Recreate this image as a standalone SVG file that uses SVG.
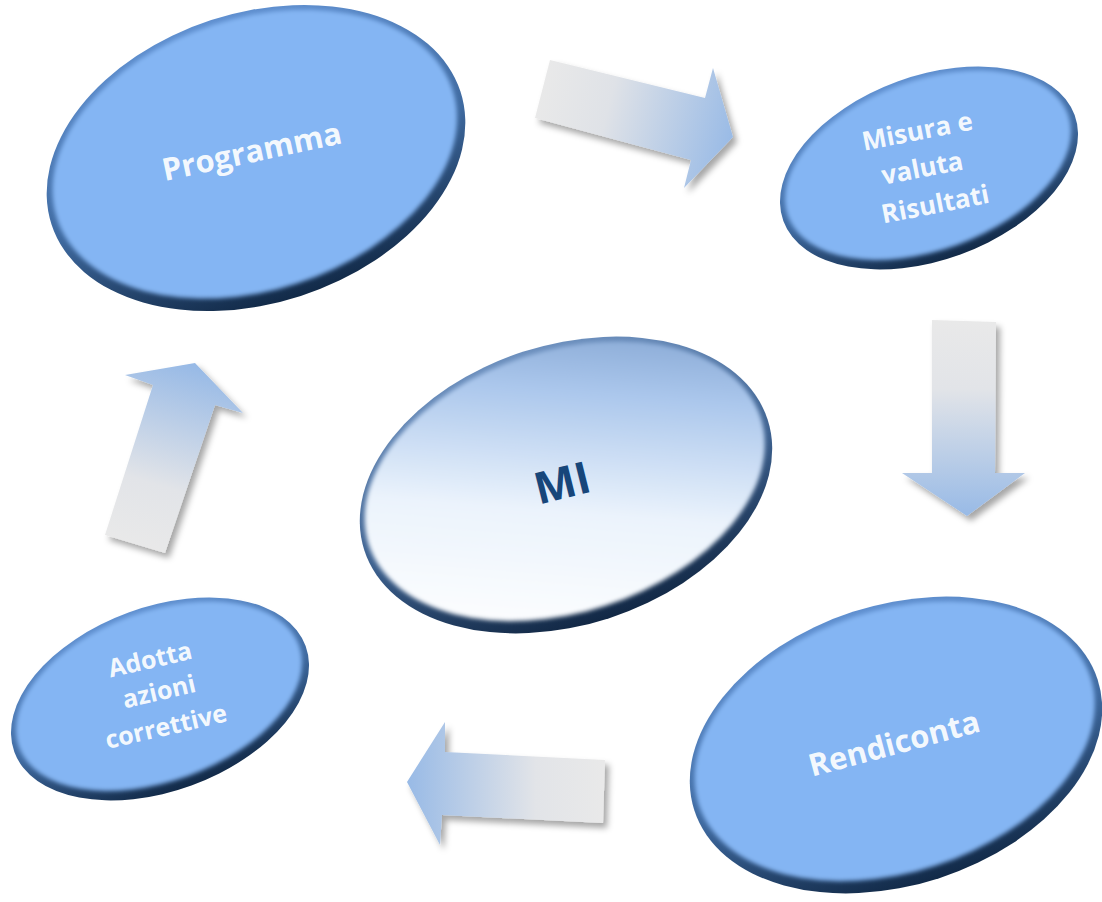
<svg xmlns="http://www.w3.org/2000/svg" width="1102" height="902" viewBox="0 0 1102 902">
<style>
.lbl{font-family:"Open Sans","Noto Sans","Liberation Sans",sans-serif;font-weight:bold;fill:#ffffff;fill-opacity:0.93;text-anchor:middle}
.mi{font-family:"Open Sans","Noto Sans","Liberation Sans",sans-serif;font-weight:bold;fill:#17467a;text-anchor:middle}
.face{fill:#84b5f3}
</style>
<defs>
<linearGradient id="rim" x1="0" y1="0" x2="0" y2="1">
<stop offset="0" stop-color="#5f8fcf"/>
<stop offset="0.55" stop-color="#3f6aa0"/>
<stop offset="1" stop-color="#122a48"/>
</linearGradient>
<linearGradient id="rimMI" x1="0" y1="0" x2="0" y2="1">
<stop offset="0" stop-color="#6c8fbd"/>
<stop offset="0.55" stop-color="#3e6290"/>
<stop offset="1" stop-color="#122845"/>
</linearGradient>
<linearGradient id="faceMI" x1="0.2" y1="1" x2="0.85" y2="0">
<stop offset="0" stop-color="#ffffff"/>
<stop offset="0.4" stop-color="#ebf3fc"/>
<stop offset="0.75" stop-color="#abc7ec"/>
<stop offset="1" stop-color="#7fa1cf"/>
</linearGradient>
<filter id="soft" x="-10%" y="-10%" width="120%" height="120%">
<feGaussianBlur stdDeviation="2.2"/>
</filter>
<filter id="shadow" x="-20%" y="-20%" width="150%" height="150%">
<feDropShadow dx="4" dy="5" stdDeviation="3" flood-color="#000" flood-opacity="0.35"/>
</filter>
<linearGradient id="gTop" gradientUnits="userSpaceOnUse" x1="540" y1="90" x2="735" y2="140">
<stop offset="0" stop-color="#e9e9e9"/>
<stop offset="0.35" stop-color="#dfe2e7"/>
<stop offset="1" stop-color="#98bae6"/>
</linearGradient>
<linearGradient id="gDown" gradientUnits="userSpaceOnUse" x1="965" y1="320" x2="965" y2="516">
<stop offset="0" stop-color="#e9e9e9"/>
<stop offset="0.35" stop-color="#e2e4e8"/>
<stop offset="1" stop-color="#98bae6"/>
</linearGradient>
<linearGradient id="gLeft" gradientUnits="userSpaceOnUse" x1="605" y1="790" x2="407" y2="790">
<stop offset="0" stop-color="#e9e9e9"/>
<stop offset="0.35" stop-color="#e2e4e8"/>
<stop offset="1" stop-color="#98bae6"/>
</linearGradient>
<linearGradient id="gUp" gradientUnits="userSpaceOnUse" x1="135" y1="548" x2="190" y2="365">
<stop offset="0" stop-color="#e9e9e9"/>
<stop offset="0.35" stop-color="#e2e4e8"/>
<stop offset="1" stop-color="#98bae6"/>
</linearGradient>
</defs>

<g id="connectors" filter="url(#shadow)">
<polygon fill="url(#gTop)" points="550,60 705,98 713,68 733,137 684,188 691,160 535,118"/>
<polygon fill="url(#gDown)" points="932,320 996,322 995,473 1025,473 967,516 902,473 932,473"/>
<polygon fill="url(#gLeft)" points="445,722 445,752 605,760 603,823 442,815 440,845 407,782"/>
<polygon fill="url(#gUp)" points="105,535 153,385 125,375 195,363 243,413 215,405 165,553"/>
</g>

<g id="node-programma">
<g transform="translate(256,158) rotate(-18)">
<ellipse rx="215" ry="145" fill="url(#rim)"/>
<ellipse cy="-4" rx="208" ry="136" class="face" filter="url(#soft)"/>
</g>
<text class="lbl" x="254" y="162" font-size="31" transform="rotate(-12 254 162)">Programma</text>
</g>

<g id="node-misura">
<g transform="translate(929,168) rotate(-20)">
<ellipse rx="155" ry="92" fill="url(#rim)"/>
<ellipse cy="-3" rx="149" ry="85" class="face" filter="url(#soft)"/>
</g>
<text class="lbl" font-size="26" x="919" y="140" transform="rotate(-11 919 140)">Misura e</text>
<text class="lbl" font-size="26" x="924" y="177" transform="rotate(-11 924 177)">valuta</text>
<text class="lbl" font-size="26" x="937" y="213" transform="rotate(-11 937 213)">Risultati</text>
</g>

<g id="node-mi">
<g transform="translate(566,485) rotate(-18)">
<ellipse rx="212" ry="140" fill="url(#rimMI)"/>
<ellipse cy="-4" rx="206" ry="131" fill="url(#faceMI)" filter="url(#soft)"/>
</g>
<text class="mi" x="566" y="498" font-size="44" transform="rotate(-14 566 498)">MI</text>
</g>

<g id="node-adotta">
<g transform="translate(160,699) rotate(-20)">
<ellipse rx="155" ry="92" fill="url(#rim)"/>
<ellipse cy="-3" rx="149" ry="85" class="face" filter="url(#soft)"/>
</g>
<text class="lbl" font-size="25" x="152" y="668" transform="rotate(-13 152 668)">Adotta</text>
<text class="lbl" font-size="25" x="161" y="700" transform="rotate(-13 161 700)">azioni</text>
<text class="lbl" font-size="25" x="168" y="735" transform="rotate(-13 168 735)">correttive</text>
</g>

<g id="node-rendiconta">
<g transform="translate(896,745) rotate(-18)">
<ellipse rx="212" ry="140" fill="url(#rim)"/>
<ellipse cy="-4" rx="206" ry="131" class="face" filter="url(#soft)"/>
</g>
<text class="lbl" x="897" y="754" font-size="31" transform="rotate(-15 897 754)">Rendiconta</text>
</g>
</svg>
